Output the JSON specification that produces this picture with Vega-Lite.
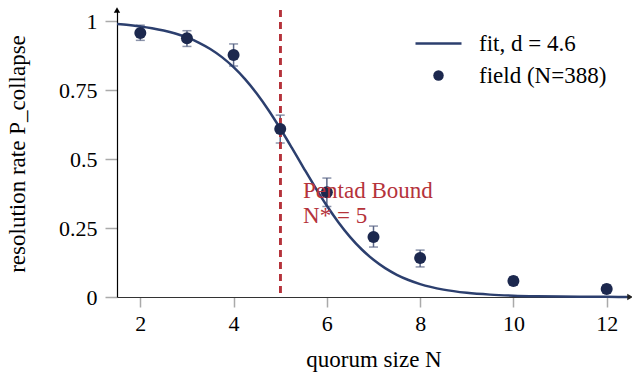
{
  "$schema": "https://vega.github.io/schema/vega-lite/v6.json",
  "width": 513,
  "height": 287,
  "autosize": "none",
  "padding": {"left": 117, "top": 10, "right": 2, "bottom": 77},
  "background": "white",
  "config": {
    "view": {"stroke": null},
    "font": "Liberation Serif",
    "axis": {
      "grid": false,
      "labelFont": "Liberation Serif",
      "titleFont": "Liberation Serif",
      "labelFontSize": 22,
      "titleFontSize": 23,
      "titleFontWeight": "normal",
      "labelColor": "#000",
      "titleColor": "#000",
      "tickColor": "#aaaaaa",
      "tickWidth": 1.5
    }
  },
  "datasets": {
    "fit": [
      {"N": 1.5, "p": 0.9889, "series": "fit, d = 4.6"},
      {"N": 1.75, "p": 0.9853, "series": "fit, d = 4.6"},
      {"N": 2.0, "p": 0.9805, "series": "fit, d = 4.6"},
      {"N": 2.25, "p": 0.9741, "series": "fit, d = 4.6"},
      {"N": 2.5, "p": 0.9657, "series": "fit, d = 4.6"},
      {"N": 2.75, "p": 0.9547, "series": "fit, d = 4.6"},
      {"N": 3.0, "p": 0.9405, "series": "fit, d = 4.6"},
      {"N": 3.25, "p": 0.9221, "series": "fit, d = 4.6"},
      {"N": 3.5, "p": 0.8987, "series": "fit, d = 4.6"},
      {"N": 3.75, "p": 0.8692, "series": "fit, d = 4.6"},
      {"N": 4.0, "p": 0.8327, "series": "fit, d = 4.6"},
      {"N": 4.25, "p": 0.7886, "series": "fit, d = 4.6"},
      {"N": 4.5, "p": 0.7365, "series": "fit, d = 4.6"},
      {"N": 4.75, "p": 0.6768, "series": "fit, d = 4.6"},
      {"N": 5.0, "p": 0.6106, "series": "fit, d = 4.6"},
      {"N": 5.25, "p": 0.5404, "series": "fit, d = 4.6"},
      {"N": 5.5, "p": 0.4683, "series": "fit, d = 4.6"},
      {"N": 5.75, "p": 0.3975, "series": "fit, d = 4.6"},
      {"N": 6.0, "p": 0.3307, "series": "fit, d = 4.6"},
      {"N": 6.25, "p": 0.2703, "series": "fit, d = 4.6"},
      {"N": 6.5, "p": 0.2172, "series": "fit, d = 4.6"},
      {"N": 6.75, "p": 0.1721, "series": "fit, d = 4.6"},
      {"N": 7.0, "p": 0.1347, "series": "fit, d = 4.6"},
      {"N": 7.25, "p": 0.1045, "series": "fit, d = 4.6"},
      {"N": 7.5, "p": 0.0804, "series": "fit, d = 4.6"},
      {"N": 7.75, "p": 0.0615, "series": "fit, d = 4.6"},
      {"N": 8.0, "p": 0.0468, "series": "fit, d = 4.6"},
      {"N": 8.5, "p": 0.0268, "series": "fit, d = 4.6"},
      {"N": 9.0, "p": 0.0152, "series": "fit, d = 4.6"},
      {"N": 9.5, "p": 0.0086, "series": "fit, d = 4.6"},
      {"N": 10.0, "p": 0.0048, "series": "fit, d = 4.6"},
      {"N": 10.5, "p": 0.0027, "series": "fit, d = 4.6"},
      {"N": 11.0, "p": 0.0015, "series": "fit, d = 4.6"},
      {"N": 11.5, "p": 0.0009, "series": "fit, d = 4.6"},
      {"N": 12.0, "p": 0.0005, "series": "fit, d = 4.6"},
      {"N": 12.5, "p": 0.0003, "series": "fit, d = 4.6"}
    ],
    "field": [
      {"N": 2, "p": 0.957, "lo": 0.93, "hi": 0.985, "series": "field (N=388)"},
      {"N": 3, "p": 0.938, "lo": 0.908, "hi": 0.965, "series": "field (N=388)"},
      {"N": 4, "p": 0.877, "lo": 0.837, "hi": 0.917, "series": "field (N=388)"},
      {"N": 5, "p": 0.609, "lo": 0.558, "hi": 0.659, "series": "field (N=388)"},
      {"N": 6, "p": 0.38, "lo": 0.328, "hi": 0.431, "series": "field (N=388)"},
      {"N": 7, "p": 0.217, "lo": 0.181, "hi": 0.257, "series": "field (N=388)"},
      {"N": 8, "p": 0.141, "lo": 0.109, "hi": 0.17, "series": "field (N=388)"},
      {"N": 10, "p": 0.058, "lo": 0.044, "hi": 0.073, "series": "field (N=388)"},
      {"N": 12, "p": 0.029, "lo": 0.015, "hi": 0.044, "series": "field (N=388)"}
    ]
  },
  "layer": [
    {
      "data": {"name": "field"},
      "mark": {"type": "rule", "color": "#5a6586", "strokeWidth": 1.5},
      "encoding": {
        "x": {"field": "N", "type": "quantitative", "scale": {"domain": [1.5, 12.5], "nice": false, "zero": false},
          "axis": {"values": [2, 4, 6, 8, 10, 12], "title": "quorum size N", "tickSize": 10, "labelPadding": 6, "titlePadding": 14, "domainColor": "#333", "domainWidth": 1.2}},
        "y": {"field": "lo", "type": "quantitative", "scale": {"domain": [0, 1.04], "nice": false},
          "axis": {"values": [0, 0.25, 0.5, 0.75, 1], "format": ".2~f", "title": "resolution rate P_collapse", "tickSize": 12, "labelPadding": 8, "titlePadding": 29, "domainColor": "#000", "domainWidth": 1.2}},
        "y2": {"field": "hi"}
      }
    },
    {
      "data": {"name": "field"},
      "mark": {"type": "tick", "orient": "horizontal", "color": "#5a6586", "thickness": 1.5, "size": 9},
      "encoding": {
        "x": {"field": "N", "type": "quantitative"},
        "y": {"field": "lo", "type": "quantitative"}
      }
    },
    {
      "data": {"name": "field"},
      "mark": {"type": "tick", "orient": "horizontal", "color": "#5a6586", "thickness": 1.5, "size": 9},
      "encoding": {
        "x": {"field": "N", "type": "quantitative"},
        "y": {"field": "hi", "type": "quantitative"}
      }
    },
    {
      "data": {"name": "field"},
      "mark": {"type": "rule", "color": "#b5333b", "strokeWidth": 2, "strokeDash": [7, 5]},
      "encoding": {"x": {"datum": 5}}
    },
    {
      "data": {"name": "fit"},
      "mark": {"type": "line", "strokeWidth": 2.5, "interpolate": "monotone"},
      "encoding": {
        "x": {"field": "N", "type": "quantitative"},
        "y": {"field": "p", "type": "quantitative"},
        "color": {"field": "series", "type": "nominal",
          "scale": {"domain": ["fit, d = 4.6", "field (N=388)"], "range": ["#2c3f6e", "#1c284e"]},
          "legend": {
            "title": null, "orient": "none", "legendX": 310, "legendY": 22,
            "labelFont": "Liberation Serif", "labelFontSize": 23, "labelColor": "#000",
            "symbolSize": 2116, "labelOffset": 29, "rowPadding": 8,
            "encode": {
              "symbols": {"update": {
                "shape": {"signal": "datum.value === 'fit, d = 4.6' ? 'stroke' : 'circle'"},
                "size": {"signal": "datum.value === 'fit, d = 4.6' ? 2116 : 110"},
                "strokeWidth": {"signal": "datum.value === 'fit, d = 4.6' ? 2.5 : 0"},
                "fill": {"signal": "datum.value === 'fit, d = 4.6' ? 'transparent' : '#1c284e'"},
                "stroke": {"signal": "datum.value === 'fit, d = 4.6' ? '#2c3f6e' : '#1c284e'"},
                "opacity": {"value": 1}
              }}
            }
          }
        }
      }
    },
    {
      "data": {"name": "field"},
      "mark": {"type": "point", "filled": true, "size": 144, "opacity": 1},
      "encoding": {
        "x": {"field": "N", "type": "quantitative"},
        "y": {"field": "p", "type": "quantitative"},
        "color": {"field": "series", "type": "nominal"}
      }
    },
    {
      "data": {"values": [{"t": 1}]},
      "mark": {"type": "text", "align": "left", "baseline": "alphabetic", "fontSize": 23, "color": "#b5333b", "lineHeight": 25, "font": "Liberation Serif"},
      "encoding": {
        "x": {"datum": 5.49},
        "y": {"datum": 0.357},
        "text": {"value": ["Pentad Bound", "N* = 5"]}
      }
    },
    {
      "data": {"values": [{"t": 1}]},
      "mark": {"type": "point", "shape": "triangle-up", "filled": true, "size": 40, "color": "#000", "opacity": 1, "clip": false},
      "encoding": {"x": {"datum": 1.5}, "y": {"datum": 1.04}}
    },
    {
      "data": {"values": [{"t": 1}]},
      "mark": {"type": "point", "shape": "triangle-right", "filled": true, "size": 40, "color": "#222", "opacity": 1, "clip": false},
      "encoding": {"x": {"datum": 12.5}, "y": {"datum": 0}}
    }
  ]
}
